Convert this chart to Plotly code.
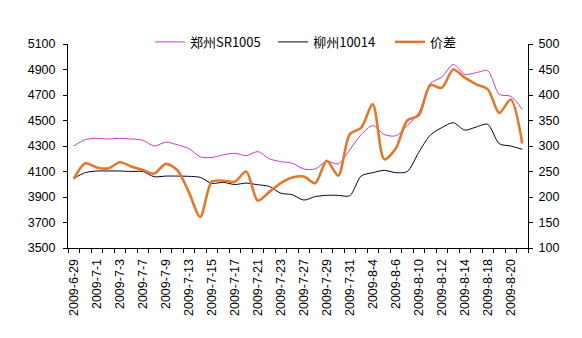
import plotly.graph_objects as go

dates = ["2009-6-29", "2009-6-30", "2009-7-1", "2009-7-2", "2009-7-3", "2009-7-6", "2009-7-7",
         "2009-7-8", "2009-7-9", "2009-7-10", "2009-7-13", "2009-7-14", "2009-7-15", "2009-7-16",
         "2009-7-17", "2009-7-20", "2009-7-21", "2009-7-22", "2009-7-23", "2009-7-24", "2009-7-27",
         "2009-7-28", "2009-7-29", "2009-7-30", "2009-7-31", "2009-8-3", "2009-8-4", "2009-8-5",
         "2009-8-6", "2009-8-7", "2009-8-10", "2009-8-11", "2009-8-12", "2009-8-13", "2009-8-14",
         "2009-8-17", "2009-8-18", "2009-8-19", "2009-8-20", "2009-8-21"]

zhengzhou = [4300, 4350, 4360, 4355, 4360, 4355, 4345, 4300, 4330, 4310,
             4280, 4215, 4210, 4230, 4243, 4224, 4256, 4200, 4177, 4165,
             4120, 4120, 4180, 4160, 4270, 4390, 4460, 4390, 4380, 4460,
             4560, 4790, 4840, 4940, 4862, 4875, 4890, 4705, 4690, 4588]

liuzhou = [4046, 4091, 4104, 4104, 4104, 4100, 4100, 4059, 4064, 4064,
           4062, 4054, 4007, 4015, 3998, 4009, 3996, 3983, 3930, 3918,
           3876, 3903, 3913, 3913, 3910, 4065, 4091, 4109, 4091, 4100,
           4250, 4385, 4444, 4483, 4425, 4449, 4470, 4318, 4300, 4274]

spread = [235, 266, 258, 256, 268, 260, 253, 246, 265, 253,
          210, 161, 230, 232, 230, 250, 193, 210, 227, 238,
          240, 227, 271, 242, 323, 336, 382, 274, 295, 350,
          360, 419, 414, 450, 434, 421, 411, 365, 391, 305]

names = ["郑州SR1005", "柳州10014", "价差"]

left_ticks = list(range(3500, 5101, 200))
right_ticks = list(range(100, 501, 50))

x = list(range(len(dates)))
font_fam = "Liberation Sans, Noto Sans CJK SC, sans-serif"
legend_font = dict(size=13, family="Noto Sans CJK SC, Liberation Sans")

fig = go.Figure()
fig.add_trace(go.Scatter(x=x, y=zhengzhou, name=names[0], mode="lines", legend="legend",
                         line=dict(color="#C63CC6", width=1, shape="spline", smoothing=0.8)))
fig.add_trace(go.Scatter(x=x, y=liuzhou, name=names[1], mode="lines", legend="legend2",
                         line=dict(color="#000033", width=1, shape="spline", smoothing=0.8)))
fig.add_trace(go.Scatter(x=x, y=spread, name=names[2], mode="lines", yaxis="y2", legend="legend3",
                         line=dict(color="#E2782C", width=2.6, shape="spline", smoothing=0.8)))


def leg(xpos):
    return dict(orientation="h", x=xpos, xanchor="left", y=1.01, yanchor="middle",
                bgcolor="rgba(0,0,0,0)", font=legend_font, itemwidth=30)


fig.update_layout(
    width=582, height=338,
    margin=dict(l=68, r=54, t=44, b=90),
    paper_bgcolor="white", plot_bgcolor="white",
    font=dict(family=font_fam, size=12, color="#000000"),
    showlegend=True,
    legend=leg(0.178),
    legend2=leg(0.446),
    legend3=leg(0.700),
    xaxis=dict(range=[-0.5, len(dates) - 0.5], tickmode="array",
               tickvals=x[::2], ticktext=dates[::2], tickangle=-90,
               ticks="", showgrid=False, showline=True, linecolor="black", linewidth=1,
               zeroline=False, tickfont=dict(size=12.5), ticklabelstandoff=5,
               minor=dict(tick0=-0.5, dtick=1, ticks="outside", ticklen=4, tickcolor="black",
                          showgrid=False)),
    yaxis=dict(range=[3500, 5100], tickvals=left_ticks, ticks="outside", ticklen=4,
               tickcolor="black", showgrid=False, showline=True, linecolor="black",
               linewidth=1, zeroline=False, tickfont=dict(size=12.5), ticklabelstandoff=5),
    yaxis2=dict(range=[100, 500], tickvals=right_ticks, overlaying="y", side="right",
                ticks="outside", ticklen=4, tickcolor="black", showgrid=False,
                showline=True, linecolor="black", linewidth=1, zeroline=False,
                tickfont=dict(size=12.5), ticklabelstandoff=3),
)

fig.write_html("out.html")
